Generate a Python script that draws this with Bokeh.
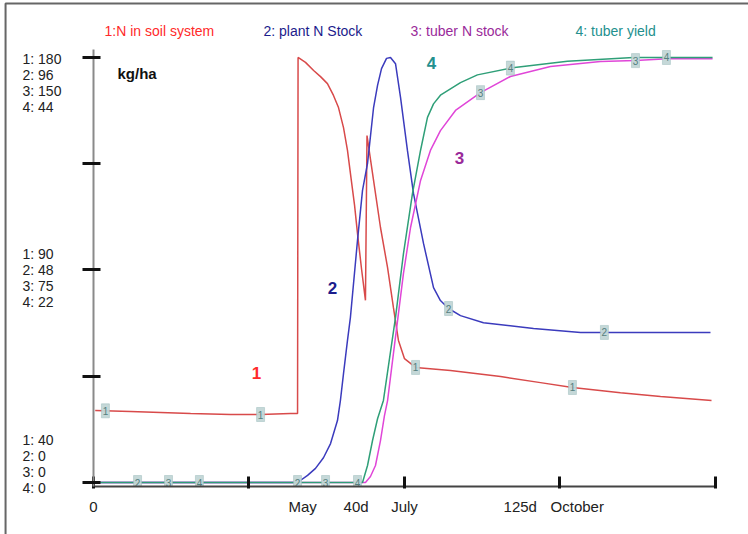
import numpy as np
from bokeh.plotting import figure
from bokeh.models import LinearAxis, FixedTicker, ColumnDataSource, Range1d
from bokeh.core.properties import value
from bokeh.embed import file_html
from bokeh.resources import INLINE

# ---------------- data (time in days, values in kg/ha) ----------------
soil_t = [1, 21.4, 38.8, 56.2, 79.3, 96.7, 114.0, 118.1, 118.4, 122.7, 127.4, 131.4, 135.4,
          138.9, 141.8, 144.7, 147.0, 148.7, 151.1, 152.8, 155.1, 157.4, 158.3, 161.5,
          166.1, 170.2, 173.6, 176.5, 180.0, 186.4, 206.6, 235.6, 258.7, 277.2, 305.0,
          328.2, 357.7]
soil_v = [63.7, 63.4, 63.1, 62.7, 62.4, 62.4, 62.7, 62.7, 180.0, 178.4, 175.7, 173.7, 171.4,
          167.5, 163.5, 156.9, 149.4, 141.8, 131.3, 122.0, 110.5, 100.0, 154.3, 141.8,
          124.0, 110.8, 97.6, 86.8, 80.8, 77.9, 76.9, 74.9, 72.9, 71.3, 69.6, 68.3, 67.0]

plant_t = [0, 118.1, 123.9, 128.5, 133.1, 137.2, 141.2, 142.9, 144.7, 147.0, 148.7, 152.8,
           155.7, 158.6, 162.1, 164.4, 166.7, 169.6, 171.9, 174.8, 177.7, 181.7, 185.2,
           191.0, 196.8, 200.8, 205.5, 212.4, 225.7, 254.7, 281.9, 357.1]
plant_v = [0, 0, 1.6, 3.2, 5.6, 8.8, 14.0, 18.5, 24.6, 32.1, 37.3, 54.7,
           66.0, 72.1, 84.7, 89.7, 93.5, 95.8, 96.0, 94.6, 87.0, 75.0, 65.3,
           54.0, 44.0, 41.1, 39.3, 37.7, 36.1, 34.8, 33.9, 33.9]

tuberN_t = [0, 157.4, 160.3, 163.2, 166.1, 168.4, 170.2, 173.1, 176.0, 179.4, 183.5, 189.3,
            195.0, 200.8, 209.5, 224.0, 241.3, 264.5, 293.4, 313.7, 332.2, 358.3]
tuberN_v = [0, 0, 2.1, 6.0, 14.8, 23.6, 28.9, 43.1, 57.2, 73.8, 90.0, 106.6,
            117.2, 124.2, 131.3, 137.6, 143.3, 146.8, 148.6, 148.9, 149.6, 149.6]

yield_t = [0, 155.7, 158.6, 161.5, 164.4, 167.8, 171.3, 174.8, 179.4, 184.6, 189.3, 193.3,
           196.8, 200.8, 212.4, 222.2, 241.3, 274.3, 312.5, 358.3]
yield_v = [0, 0, 1.76, 4.35, 6.6, 8.5, 12.8, 17.1, 23.7, 29.9, 34.4, 37.8,
           39.2, 40.1, 41.4, 42.2, 42.9, 43.6, 44.0, 44.0]

# scales of the four series (bottom, top)
scale_lo = [40, 0, 0, 0]
scale_hi = [180, 96, 150, 44]

series_names = ["1:N in soil system", "2: plant N Stock", "3: tuber N stock", "4: tuber yield"]
line_colors = ["#d84a4a", "#3b3bbd", "#e046d8", "#2f9f78"]
text_colors = ["#ff2a2a", "#1c1c8c", "#9a2a9a", "#23908e"]

top_labels = ["1: 180", "2: 96", "3: 150", "4: 44"]
mid_labels = ["1: 90", "2: 48", "3: 75", "4: 22"]
bot_labels = ["1: 40", "2: 0", "3: 0", "4: 0"]

x_tick_days = [0, 121, 152, 180, 247, 280]
x_tick_text = ["0", "May", "40d", "July", "125d", "October"]
x_major_marks = [0, 90, 180, 270, 360]

marker_days = [[6.9, 96.7, 186.4, 277.2],
               [25.5, 118.1, 205.5, 295.7],
               [43.4, 134.3, 224.0, 313.7],
               [61.3, 152.8, 241.3, 331.6]]

FONT = "Liberation Sans"

# ---------------- figure ----------------
p = figure(width=748, height=534, output_backend="svg", toolbar_location=None,
           x_axis_location=None, y_axis_location=None,
           x_range=Range1d(0, 379.1), y_range=Range1d(-0.0094, 1.1341),
           min_border_left=93, min_border_right=0, min_border_top=0, min_border_bottom=48)
p.outline_line_color = None
p.background_fill_color = "white"
p.border_fill_color = "white"
p.grid.visible = False

# axes
xaxis = LinearAxis(ticker=FixedTicker(ticks=x_tick_days, minor_ticks=x_major_marks),
                   bounds=(0, 360))
xaxis.major_label_overrides = {d: t for d, t in zip(x_tick_days, x_tick_text)}
xaxis.major_tick_in = 0
xaxis.major_tick_out = 0
xaxis.minor_tick_in = 10
xaxis.minor_tick_out = 2
xaxis.minor_tick_line_width = 3
xaxis.minor_tick_line_color = "#111111"
xaxis.axis_line_color = "#444444"
xaxis.axis_line_width = 2
xaxis.major_label_standoff = 9
xaxis.major_label_text_font = FONT
xaxis.major_label_text_font_size = "15px"
xaxis.major_label_text_color = "#222222"
p.add_layout(xaxis, "below")

yaxis = LinearAxis(ticker=FixedTicker(ticks=[], minor_ticks=[0, 0.25, 0.5, 0.75, 1.0]),
                   bounds=(-0.0094, 1.019))
yaxis.major_label_text_font_size = "0px"
yaxis.major_tick_in = 0
yaxis.major_tick_out = 0
yaxis.minor_tick_in = 7
yaxis.minor_tick_out = 11
yaxis.minor_tick_line_width = 3
yaxis.minor_tick_line_color = "#111111"
yaxis.axis_line_color = "#8a8a8a"
yaxis.axis_line_width = 2
p.add_layout(yaxis, "left")

# outer frame lines of the picture
p.line([-50.9, -50.9, 379.1], [-0.1224, 1.127, 1.127], line_color="#666666",
       line_width=2, level="overlay")

# series
series = [(soil_t, soil_v), (plant_t, plant_v), (tuberN_t, tuberN_v), (yield_t, yield_v)]
norm = []
for i, (t, v) in enumerate(series):
    y = (np.array(v, dtype=float) - scale_lo[i]) / (scale_hi[i] - scale_lo[i])
    norm.append((np.array(t, dtype=float), y))

for i in [0, 1, 2, 3]:
    t, y = norm[i]
    p.line(t, y, line_color=line_colors[i], line_width=1.5)

# small numbered markers on the lines
for i in range(4):
    t, y = norm[i]
    mx = marker_days[i]
    my = np.interp(mx, t, y)
    p.rect(mx, my, width=8, height=14, width_units="screen", height_units="screen",
           fill_color="#c2d6d6", fill_alpha=0.95, line_color="#9dbcbc", line_width=0.5)
    p.text(mx, my, text=[str(i + 1)] * len(mx), text_font=value(FONT), text_font_size="10px",
           text_color="#557f7f", text_align="center", text_baseline="middle")

# series titles at top
title_x = [6.4, 98.4, 183.5, 279.0]
p.text(title_x, [1.0635] * 4, text=series_names, text_font=value(FONT),
       text_font_size="14px", text_color=text_colors, text_align="left", text_baseline="middle")

# unit
p.text([13.9], [0.962], text=["kg/ha"], text_font=value(FONT), text_font_size="15px",
       text_font_style="bold", text_color="#111111", text_align="left", text_baseline="middle")

# curve numbers
p.text([94.3, 138.3, 211.8, 195.6], [0.2588, 0.4588, 0.7624, 0.9882],
       text=["1", "2", "3", "4"], text_font=value(FONT), text_font_size="17px",
       text_font_style="bold", text_color=text_colors, text_align="center",
       text_baseline="middle")

# stacked y-axis scale labels (left of the axis)
lh = 16 / 425.0
ly, lt = [], []
for k, s in enumerate(top_labels):
    ly.append(0.9976 - k * lh); lt.append(s)
for k, s in enumerate(mid_labels):
    ly.append(0.5 + lh - k * lh); lt.append(s)
for k, s in enumerate(bot_labels):
    ly.append(-0.0118 + (3 - k) * lh); lt.append(s)
src = ColumnDataSource(dict(x=[-41.1] * len(ly), y=ly, text=lt))
p.text(x="x", y="y", text="text", source=src, text_font=value(FONT),
       text_font_size="14px", text_color="#222222", text_align="left",
       text_baseline="middle", level="overlay")

open("out.html", "w").write(file_html(p, INLINE))
